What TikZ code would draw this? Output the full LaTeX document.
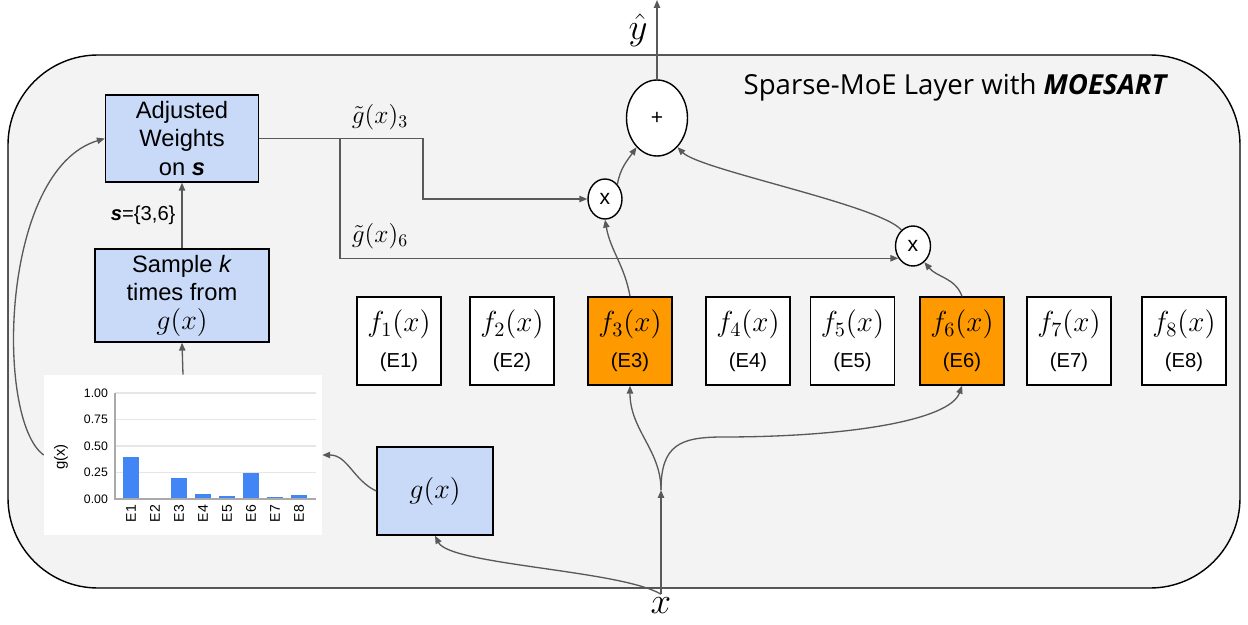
\RequirePackage{fix-cm}
\documentclass[tikz,border=0pt]{standalone}
\usepackage[no-math]{fontspec}
\setmainfont{Liberation Sans}
\newfontfamily\layerfont{Open Sans}
\usepackage{amsmath}
\usetikzlibrary{arrows.meta,positioning,shapes.geometric}

\definecolor{gatefill}{HTML}{C9DAF8}
\definecolor{pickfill}{HTML}{FF9900}
\definecolor{wire}{HTML}{595959}
\definecolor{layerfill}{HTML}{F3F3F3}
\definecolor{barblue}{HTML}{4285F4}
\definecolor{gridgray}{HTML}{E6E6E6}
\definecolor{axisgray}{HTML}{AAAAAA}

\newcommand{\exptag}[1]{{\fontsize{11.5}{13.8}\selectfont(#1)}}

\begin{document}
\begin{tikzpicture}[
    x=0.02cm, y=0.02cm,
    blk/.style={draw, line width=0.8pt, fill=gatefill, align=center, inner sep=0pt,
        font=\fontsize{13.5}{16.2}\selectfont},
    expert/.style={draw, line width=0.8pt, fill=white, minimum width=1.68cm,
        minimum height=1.76cm, align=center, inner sep=0pt, font=\fontsize{16.5}{19}\selectfont},
    picked/.style={expert, fill=pickfill},
    op/.style={draw, ellipse, line width=0.8pt, fill=white, inner sep=0pt,
        font=\fontsize{12}{14}\selectfont},
    wlbl/.style={font=\fontsize{14.5}{17}\selectfont},
    io/.style={font=\fontsize{21}{24}\selectfont, inner sep=2pt},
    flow/.style={draw=wire, line width=0.75pt},
    tick/.style={font=\fontsize{7}{8}\selectfont, anchor=east, inner sep=1pt},
    >={Triangle[length=4.5pt,width=3.6pt]}
]
\useasboundingbox (0,0) rectangle (1248,-625);

\draw[line width=0.8pt, fill=layerfill, rounded corners=1.8cm] (8,-55) rectangle (1240,-588);
\node[font=\layerfont\fontsize{15.7}{18}\selectfont] (title) at (956,-87)
    {Sparse-MoE Layer with \textbf{\textit{MOESART}}};

\node[blk, minimum width=3.06cm, minimum height=1.74cm] (adj) at (182,-138.5)
    {Adjusted\\Weights\\on \textbf{\textit{s}}};
\node[blk, minimum width=3.48cm, minimum height=1.86cm] (samp) at (182,-295.5)
    {Sample \textit{k}\\times from\\{\fontsize{16}{16.2}\selectfont$g(x)$}};
\node[blk, minimum width=2.32cm, minimum height=1.76cm, font=\fontsize{16}{19}\selectfont] (gbox) at (435,-491) {$g(x)$};

\node[fill=white, minimum width=5.56cm, minimum height=3.2cm, inner sep=0pt] (chart) at (183,-455) {};
\foreach \t in {0.25,0.5,0.75,1}
  \draw[gridgray, line width=0.6pt] (115,{-499+106*\t}) -- (316,{-499+106*\t});
\foreach \t/\s [count=\k] in {0/0.00,0.25/0.25,0.5/0.50,0.75/0.75,1/1.00}
  \node[tick] (tick\k) at (110,{-499+106*\t}) {\s};
\foreach \v [count=\i] in {0.40,0.01,0.20,0.05,0.03,0.25,0.02,0.04} {
  \fill[barblue] ({99+24*\i},-499) rectangle ({115+24*\i},{-499+106*\v});
  \node[rotate=90, anchor=east, font=\fontsize{8}{9}\selectfont, inner sep=1pt] (elbl\i) at ({107+24*\i},-503) {E\i};
}
\draw[axisgray, line width=0.6pt] (115,-393) -- (115,-499) -- (316,-499);
\node[rotate=90, font=\fontsize{8.5}{10}\selectfont] (ylbl) at (61,-457) {g(x)};

\node[op, minimum width=1.22cm, minimum height=1.52cm] (plus) at (657,-118) {+};
\node[op, minimum width=0.68cm, minimum height=0.8cm] (mult3) at (605,-199) {x};
\node[op, minimum width=0.7cm, minimum height=0.8cm] (mult6) at (913,-246) {x};

\node[expert] (e1) at (399,-341) {$f_1(x)$\\[1.4pt]\exptag{E1}};
\node[expert] (e2) at (512,-341) {$f_2(x)$\\[1.4pt]\exptag{E2}};
\node[picked] (e3) at (630,-341) {$f_3(x)$\\[1.4pt]\exptag{E3}};
\node[expert] (e4) at (748,-341) {$f_4(x)$\\[1.4pt]\exptag{E4}};
\node[expert] (e5) at (852.5,-341) {$f_5(x)$\\[1.4pt]\exptag{E5}};
\node[picked] (e6) at (962,-341) {$f_6(x)$\\[1.4pt]\exptag{E6}};
\node[expert] (e7) at (1069,-341) {$f_7(x)$\\[1.4pt]\exptag{E7}};
\node[expert] (e8) at (1184,-341) {$f_8(x)$\\[1.4pt]\exptag{E8}};

\node[wlbl] (g3) at (380,-117) {$\tilde{g}(x)_3$};
\node[wlbl] (g6) at (380,-236) {$\tilde{g}(x)_6$};
\node[io] (yhat) at (638,-30) {$\hat{y}$};
\node[io] (xin) at (661,-606) {$x$};

\coordinate (split) at (340,-138.5);
\coordinate (turn) at (423,-138.5);
\coordinate (fork) at (661,-490);
\coordinate (bend) at (723,-437);
\coordinate (yout) at (657,0);

\draw[flow,->] (chart.north) -- (samp.south);
\draw[flow,->] (samp.north) -- node[left, font=\fontsize{11.5}{13.8}\selectfont] (sset) {\textbf{\textit{s}}=\{3,6\}} (adj.south);
\draw[flow,->] (adj.east) -- (turn) |- (mult3.west);
\draw[flow,->] (split) |- (mult6.220);
\draw[flow,->] (mult3.50) to[out=80,in=235] (plus.235);
\draw[flow,->] (mult6.126) .. controls (880,-205) and (700,-170) .. (plus.305);
\draw[flow,->] (plus.north) -- (yout);
\draw[flow,->] (e3.north) to[out=100,in=-80] (mult3.south);
\draw[flow,->] (e6.north) to[out=110,in=-50] (mult6.-55);
\draw[flow,->] (xin.north) -- (fork);
\draw[flow,->] (fork) .. controls (661,-450) and (630,-430) .. (e3.south);
\draw[flow,->] (fork) .. controls (661,-445) and (680,-437) .. (bend) .. controls (850,-437) and (950,-420) .. (e6.south);
\draw[flow,->] (xin.north) .. controls (620,-570) and (450,-565) .. (gbox.south);
\draw[flow,->] (gbox.west) to[out=155,in=0] (chart.east);
\draw[flow,->] (chart.west) .. controls (-5,-420) and (0,-170) .. (adj.west);

\end{tikzpicture}
\end{document}
